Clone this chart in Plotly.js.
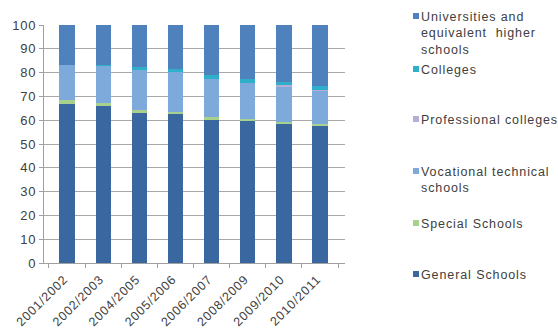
<!DOCTYPE html>
<html><head><meta charset="utf-8">
<script src="https://cdn.plot.ly/plotly-3.0.1.min.js"></script>
<style>html,body{margin:0;padding:0;background:#fff}#c{width:558px;height:330px}</style>
</head><body><div id="c"></div>
<script>
var years = ["2001/2002","2002/2003","2004/2005","2005/2006","2006/2007","2008/2009","2009/2010","2010/2011"];
var general      = [67.0, 65.9, 63.1, 62.4, 60.2, 59.7, 58.5, 57.7];
var special      = [1.3, 1.2, 1.3, 1.2, 1.2, 1.0, 0.8, 0.8];
var vocational   = [14.7, 15.5, 16.9, 16.8, 15.8, 14.8, 14.6, 13.7];
var professional = [0, 0, 0, 0, 0, 0, 0.8, 0.7];
var colleges     = [0.4, 0.4, 1.0, 1.1, 1.6, 1.7, 1.2, 1.5];
var universities = [16.6, 17.0, 17.7, 18.5, 21.2, 22.8, 24.1, 25.6];
var yTicks = [0,10,20,30,40,50,60,70,80,90,100];

var series = [
  {name:"General Schools", y:general, color:"#3A67A0", legendText:"General Schools", ly:274},
  {name:"Special Schools", y:special, color:"#A9D18E", legendText:"Special Schools", ly:223},
  {name:"Vocational technical schools", y:vocational, color:"#7EA9DB", legendText:"Vocational technical<br>schools", ly:171},
  {name:"Professional colleges", y:professional, color:"#B7AED6", legendText:"Professional colleges", ly:119},
  {name:"Colleges", y:colleges, color:"#2FAFCA", legendText:"Colleges", ly:69},
  {name:"Universities and equivalent higher schools", y:universities, color:"#4F81BD", legendText:"Universities and<br>equivalent  higher<br>schools", ly:16}
];

function spaced(t, ls){ return t.split("<br>").map(function(p){ return '<span style="letter-spacing:' + ls + 'px">' + p + '</span>'; }).join("<br>"); }

var L = 44, R = 213, T = 25, B = 67, W = 558, H = 330;
var pw = W - L - R, ph = H - T - B;
function px(x){ return (x - L) / pw; }
function py(y){ return 1 - (y - T) / ph; }

var traces = series.map(function(s){
  return {type:"bar", x:years, y:s.y, name:s.name, marker:{color:s.color, line:{width:0}}, width:0.42, showlegend:false, hoverinfo:"y+name"};
});

var annotations = [], shapes = [];
series.forEach(function(s){
  annotations.push({xref:"paper", yref:"paper", x:px(419), y:py(s.ly - 8.5), xanchor:"left", yanchor:"top",
    text:spaced(s.legendText, 0.9), showarrow:false, align:"left", font:{family:"Liberation Sans, Arial, sans-serif", size:12.5, color:"#404040"}});
  shapes.push({type:"rect", xref:"paper", yref:"paper", x0:px(413), x1:px(419), y0:py(s.ly+3), y1:py(s.ly-3), fillcolor:s.color, line:{width:0}});
});

var layout = {
  width:W, height:H, margin:{l:L, r:R, t:T, b:B, pad:0},
  paper_bgcolor:"#fff", plot_bgcolor:"#fff",
  barmode:"stack", showlegend:false,
  font:{family:"Liberation Sans, Arial, sans-serif", size:12, color:"#404040"},
  xaxis:{type:"category", range:[-0.636, 7.69], tickvals:years, ticktext:years.map(function(y){return spaced(y, 0.8);}),
         tickangle:-45, tickfont:{size:12.5, color:"#404040"}, showline:true, linecolor:"#a0a0a0",
         ticks:"outside", tickson:"boundaries", ticklen:4, tickcolor:"#a0a0a0", showgrid:false,
         ticklabelstandoff:3, ticklabelshift:-3},
  yaxis:{range:[0,100], tickvals:yTicks, ticktext:yTicks.map(function(v){return spaced(String(v), 0.8);}), tickfont:{size:13, color:"#404040"},
         showgrid:true, gridcolor:"#a8a8a8", gridwidth:1, showline:true, linecolor:"#a0a0a0", ticks:"outside", ticklen:4, tickcolor:"#a0a0a0", zeroline:false},
  annotations:annotations, shapes:shapes
};
Plotly.newPlot("c", traces, layout, {displayModeBar:false, staticPlot:true});
</script></body></html>
